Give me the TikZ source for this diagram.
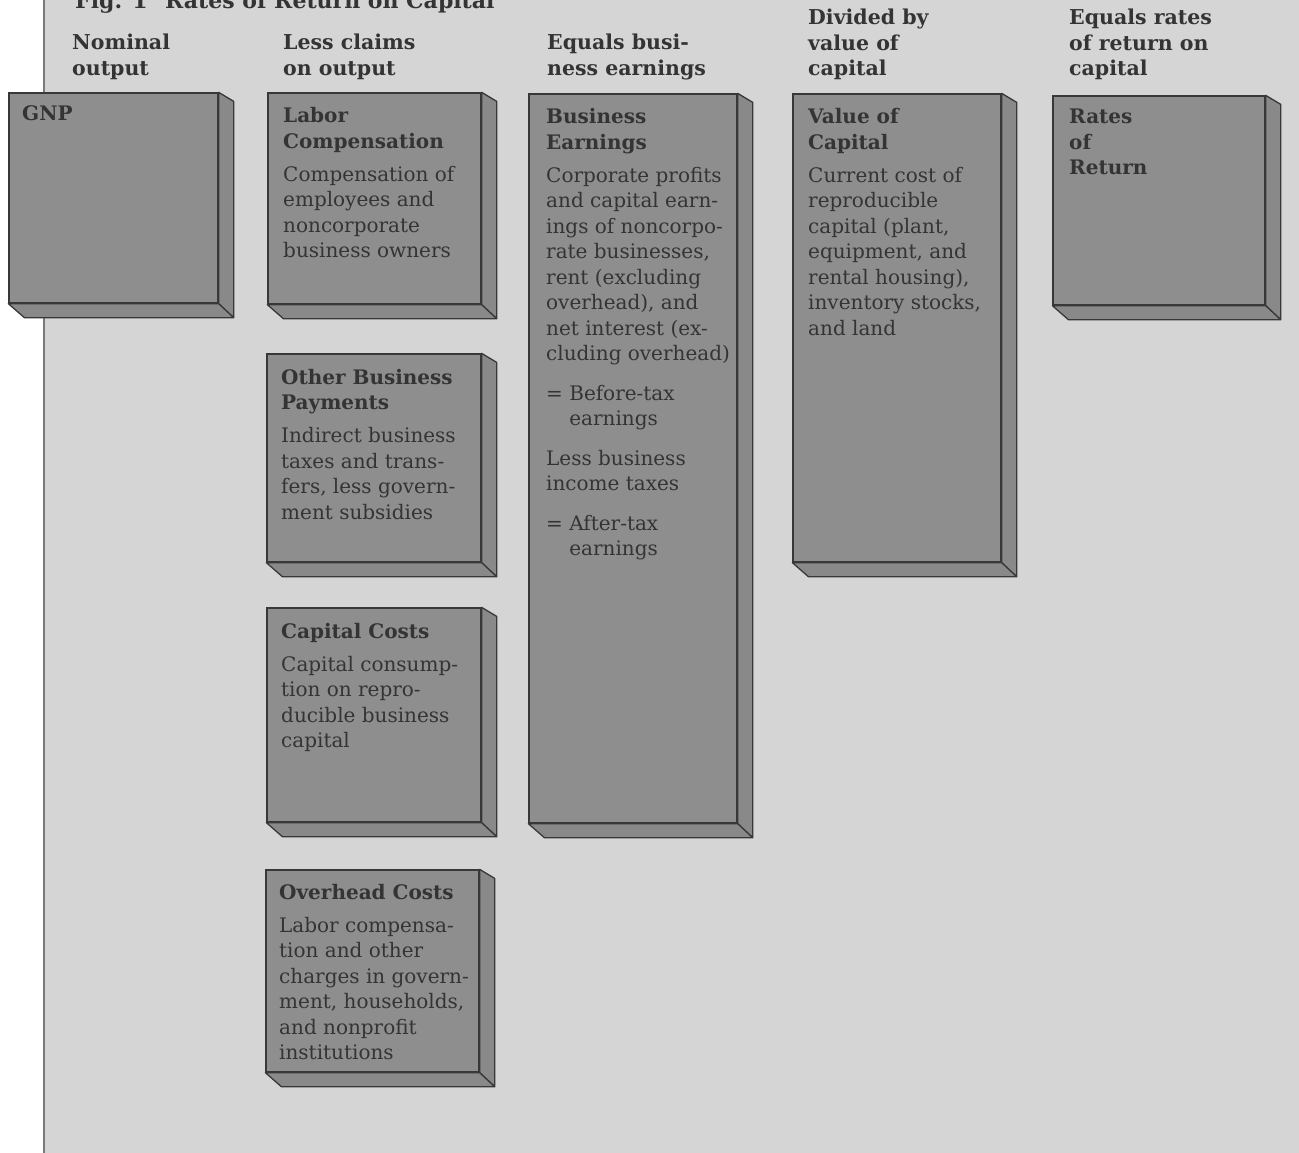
\documentclass[tikz,border=0pt]{standalone}
\usepackage{fontspec}
\setmainfont{DejaVu Serif}
\definecolor{panel}{HTML}{D5D5D5}
\definecolor{frontc}{HTML}{8E8E8E}
\definecolor{sidec}{HTML}{898989}
\definecolor{edge}{HTML}{383838}
\definecolor{ink}{HTML}{343434}
\definecolor{rule}{HTML}{7A7A7A}
\newcommand\ptxt[2]{\parbox[t]{#1pt}{\raggedright #2}}
\newcommand\slab[5]{%
  \node[front, minimum width=#4pt, minimum height=#5pt] (#1) at (#2,#3) {};
  \filldraw[sideface] (#1.north east) -- ++(15,9) -- ([shift={(15,14)}]#1.south east) -- (#1.south east) -- cycle;
  \filldraw[sideface] (#1.south west) -- ++(16,14) -- ([shift={(15,14)}]#1.south east) -- (#1.south east) -- cycle;
}
\begin{document}
\begin{tikzpicture}[x=1pt,y=-1pt,
  front/.style={draw=edge, fill=frontc, line width=1.3pt, inner sep=0pt, rectangle},
  sideface/.style={draw=edge, fill=sidec, line width=1.3pt, line join=round},
  hdr/.style={anchor=base west, inner sep=0pt, text=ink, font=\fontsize{20.5}{25.5}\selectfont\bfseries},
  ttl/.style={anchor=base west, inner sep=0pt, text=ink, font=\fontsize{22}{26}\selectfont\bfseries},
  boxtxt/.style={anchor=base west, inner sep=0pt, text=ink, font=\fontsize{20}{25.5}\selectfont\bfseries}]
\useasboundingbox (0,0) rectangle (1299,1153);
\fill[white] (0,0) rectangle (1299,1153);
\fill[panel] (44,0) rectangle (1299,1153);
\draw[rule, line width=1.5pt] (44,0) -- (44,1153);
% title
\node[ttl] (fig) at (75,9) {Fig. 1};
\node[ttl] (title) at (165,9) {Rates of Return on Capital};
% column headers
\node[hdr] (h1) at (72,50) {\ptxt{200}{Nominal\\output}};
\node[hdr] (h2) at (283,50) {\ptxt{200}{Less claims\\on output}};
\node[hdr] (h3) at (547,50) {\ptxt{200}{Equals busi-\\ness earnings}};
\node[hdr] (h4) at (808,25) {\ptxt{200}{Divided by\\value of\\capital}};
\node[hdr] (h5) at (1069,25) {\ptxt{200}{Equals rates\\of return on\\capital}};
% boxes
\slab{gnp}{113.5}{198}{209}{210}
\slab{labor}{374.5}{198.5}{213}{211}
\slab{other}{374}{458}{214}{208}
\slab{capc}{374}{715}{214}{214}
\slab{ovh}{372.5}{971}{213}{202}
\slab{bus}{633}{458.5}{208}{729}
\slab{val}{897}{328}{208}{468}
\slab{rates}{1159}{200.5}{212}{209}
% box texts
\node[boxtxt] (gnp-t) at (22,121) {\ptxt{190}{GNP}};
\node[boxtxt] (labor-t) at (283,123) {\ptxt{200}{Labor\\Compensation\par\vspace{7.5pt}\mdseries
Compensation of\\employees and\\noncorporate\\business owners}};
\node[boxtxt] (other-t) at (281,384) {\ptxt{200}{Other Business\\Payments\par\vspace{7.5pt}\mdseries
Indirect business\\taxes and trans-\\fers, less govern-\\ment subsidies}};
\node[boxtxt] (capc-t) at (281,638) {\ptxt{200}{Capital Costs\par\vspace{7.5pt}\mdseries
Capital consump-\\tion on repro-\\ducible business\\capital}};
\node[boxtxt] (ovh-t) at (279,899) {\ptxt{200}{Overhead Costs\par\vspace{7.5pt}\mdseries
Labor compensa-\\tion and other\\charges in govern-\\ment, households,\\and nonprofit\\institutions}};
\node[boxtxt] (bus-t) at (546,124) {\ptxt{200}{Business\\Earnings\par\vspace{7.5pt}\mdseries
Corporate profits\\and capital earn-\\ings of noncorpo-\\rate businesses,\\rent (excluding\\overhead), and\\net interest (ex-\\cluding overhead)\par\vspace{14pt}
= Before-tax\\\phantom{=\ }earnings\par\vspace{14pt}
Less business\\income taxes\par\vspace{14pt}
= After-tax\\\phantom{=\ }earnings}};
\node[boxtxt] (val-t) at (808,124) {\ptxt{200}{Value of\\Capital\par\vspace{7.5pt}\mdseries
Current cost of\\reproducible\\capital (plant,\\equipment, and\\rental housing),\\inventory stocks,\\and land}};
\node[boxtxt] (rates-t) at (1069,124) {\ptxt{190}{Rates\\of\\Return}};
\end{tikzpicture}
\end{document}
